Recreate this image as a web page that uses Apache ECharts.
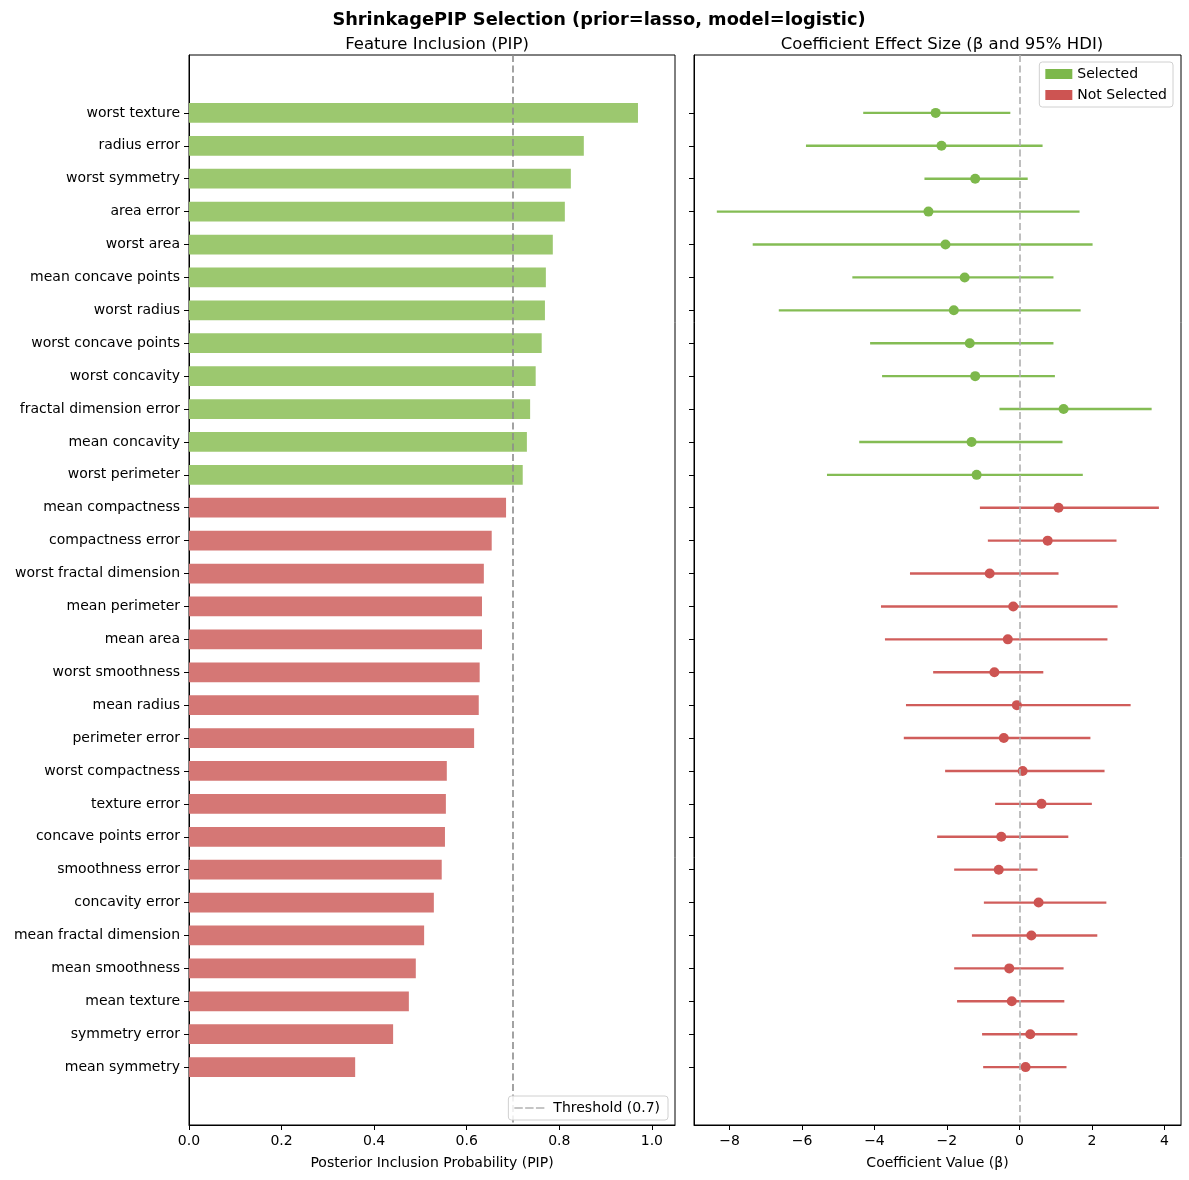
<!DOCTYPE html>
<html>
<head>
<meta charset="utf-8">
<script src="https://cdn.jsdelivr.net/npm/echarts@6/dist/echarts.min.js"></script>
<style>
  html, body { margin: 0; padding: 0; background: #fff; }
  #chart { width: 1189px; height: 1180px; }
</style>
</head>
<body>
<div id="chart"></div>
<script>
// features, top to bottom
const features = [
  "worst texture", "radius error", "worst symmetry", "area error", "worst area",
  "mean concave points", "worst radius", "worst concave points", "worst concavity",
  "fractal dimension error", "mean concavity", "worst perimeter", "mean compactness",
  "compactness error", "worst fractal dimension", "mean perimeter", "mean area",
  "worst smoothness", "mean radius", "perimeter error", "worst compactness",
  "texture error", "concave points error", "smoothness error", "concavity error",
  "mean fractal dimension", "mean smoothness", "mean texture", "symmetry error",
  "mean symmetry"
];
const pip = [
  0.970, 0.853, 0.825, 0.812, 0.786, 0.771, 0.769, 0.762, 0.749, 0.737,
  0.730, 0.721, 0.685, 0.654, 0.637, 0.633, 0.633, 0.628, 0.626, 0.616,
  0.557, 0.555, 0.553, 0.546, 0.529, 0.508, 0.490, 0.475, 0.441, 0.359
];
const betaMean = [
  -2.31, -2.15, -1.22, -2.51, -2.04, -1.51, -1.81, -1.37, -1.22, 1.22,
  -1.32, -1.18, 1.08, 0.78, -0.82, -0.17, -0.32, -0.69, -0.07, -0.43,
  0.09, 0.61, -0.50, -0.57, 0.53, 0.33, -0.28, -0.21, 0.30, 0.17
];
const hdiLow = [
  -4.31, -5.89, -2.62, -8.35, -7.36, -4.61, -6.64, -4.12, -3.79, -0.55,
  -4.42, -5.31, -1.09, -0.87, -3.02, -3.82, -3.71, -2.38, -3.13, -3.19,
  -2.05, -0.67, -2.27, -1.80, -0.98, -1.31, -1.80, -1.72, -1.03, -1.00
];
const hdiHigh = [
  -0.25, 0.64, 0.23, 1.66, 2.02, 0.94, 1.69, 0.94, 0.98, 3.65,
  1.19, 1.75, 3.85, 2.68, 1.08, 2.71, 2.43, 0.66, 3.07, 1.96,
  2.35, 2.00, 1.35, 0.50, 2.40, 2.15, 1.22, 1.24, 1.60, 1.30
];
const threshold = 0.7;
const pipTicks = [0, 0.2, 0.4, 0.6, 0.8, 1.0];
const betaTicks = [-8, -6, -4, -2, 0, 2, 4];

const GREEN_BAR = "#9cc86f", RED_BAR = "#d57775";
const GREEN = "#7db84b", RED = "#cd5452";
const FONT = "DejaVu Sans";
const DASH = [7, 3.5];

const idx = features.map((_, i) => i);
const barData = idx.map(i => [pip[i], i, pip[i] >= threshold ? 1 : 0]);
const selIdx = idx.filter(i => pip[i] >= threshold);
const notIdx = idx.filter(i => pip[i] < threshold);

const chart = echarts.init(document.getElementById("chart"));

function barItem(params, api) {
  const y = api.value(1);
  const a = api.coord([0, y]);
  const b = api.coord([api.value(0), y]);
  const h = api.size([0, 0.6])[1];
  return {
    type: "rect",
    shape: { x: a[0], y: a[1] - h / 2, width: b[0] - a[0], height: h },
    style: { fill: api.value(2) ? GREEN_BAR : RED_BAR }
  };
}
function errItem(color) {
  return function (params, api) {
    const y = api.value(2);
    const a = api.coord([api.value(0), y]);
    const b = api.coord([api.value(1), y]);
    return {
      type: "line",
      shape: { x1: a[0], y1: a[1], x2: b[0], y2: b[1] },
      style: { stroke: color, lineWidth: 2.4, opacity: 0.95 }
    };
  };
}

const yCommon = {
  type: "value", inverse: true, min: -1.76, max: 30.76,
  splitLine: { show: false },
  axisLine: { show: true, onZero: false, lineStyle: { color: "#000", width: 1 } },
  axisTick: { show: true, length: 5, customValues: idx, lineStyle: { color: "#000" } }
};
const minus = v => (v < 0 ? "\u2212" + Math.abs(v) : String(v));

chart.setOption({
  animation: false,
  textStyle: { fontFamily: FONT },
  title: [
    { text: "ShrinkagePIP Selection (prior=lasso, model=logistic)", left: 594, top: 6, textAlign: "center",
      textStyle: { fontFamily: FONT, fontSize: 17.8, fontWeight: "bold", color: "#000" } },
    { text: "Feature Inclusion (PIP)", left: 432, top: 31, textAlign: "center",
      textStyle: { fontFamily: FONT, fontSize: 16.5, fontWeight: "normal", color: "#000" } },
    { text: "Coefficient Effect Size (\u03b2 and 95% HDI)", left: 937, top: 31, textAlign: "center",
      textStyle: { fontFamily: FONT, fontSize: 16.5, fontWeight: "normal", color: "#000" } }
  ],
  legend: [
    {
      data: [{ name: "Threshold (0.7)", icon: "path://M0,0h9v1h-9z M11.5,0h9v1h-9z M23,0h9v1h-9z" }],
      orient: "vertical", right: 521, bottom: 60, z: 20,
      itemWidth: 30, itemHeight: 1.6, itemGap: 6,
      backgroundColor: "rgba(255,255,255,0.85)", borderColor: "#d0d0d0", borderWidth: 1, borderRadius: 3,
      padding: [5, 8, 5, 6],
      textStyle: { fontFamily: FONT, fontSize: 14, color: "#000", padding: [0, 0, 0, 4] }
    },
    {
      data: [{ name: "Selected", icon: "rect" }, { name: "Not Selected", icon: "rect" }],
      orient: "vertical", right: 16, top: 62, z: 20,
      itemWidth: 27, itemHeight: 10, itemGap: 7,
      backgroundColor: "rgba(255,255,255,0.85)", borderColor: "#d0d0d0", borderWidth: 1, borderRadius: 3,
      padding: [5, 6, 5, 6],
      textStyle: { fontFamily: FONT, fontSize: 14, color: "#000" }
    }
  ],
  grid: [
    { left: 189, right: 514, top: 55, bottom: 55, show: true, borderColor: "#000", borderWidth: 1 },
    { left: 694, right: 8, top: 55, bottom: 55, show: true, borderColor: "#000", borderWidth: 1 }
  ],
  xAxis: [
    {
      gridIndex: 0, type: "value", min: 0, max: 1.05,
      name: "Posterior Inclusion Probability (PIP)", nameLocation: "middle", nameGap: 31,
      nameTextStyle: { fontFamily: FONT, fontSize: 14, color: "#000" },
      splitLine: { show: false },
      axisLine: { show: true, onZero: false, lineStyle: { color: "#000" } },
      axisTick: { show: true, length: 5, customValues: pipTicks, lineStyle: { color: "#000" } },
      axisLabel: { customValues: pipTicks, margin: 9, fontFamily: FONT, fontSize: 14, color: "#000",
        formatter: v => v.toFixed(1) }
    },
    {
      gridIndex: 1, type: "value", min: -8.98, max: 4.46,
      name: "Coefficient Value (\u03b2)", nameLocation: "middle", nameGap: 31,
      nameTextStyle: { fontFamily: FONT, fontSize: 14, color: "#000" },
      splitLine: { show: false },
      axisLine: { show: true, onZero: false, lineStyle: { color: "#000" } },
      axisTick: { show: true, length: 5, customValues: betaTicks, lineStyle: { color: "#000" } },
      axisLabel: { customValues: betaTicks, margin: 9, fontFamily: FONT, fontSize: 14, color: "#000",
        formatter: minus }
    }
  ],
  yAxis: [
    Object.assign({ gridIndex: 0 }, yCommon, {
      axisLabel: { customValues: idx, margin: 9, fontFamily: FONT, fontSize: 14, color: "#000",
        formatter: v => features[Math.round(v)] }
    }),
    Object.assign({ gridIndex: 1 }, yCommon, { axisLabel: { show: false } })
  ],
  series: [
    {
      name: "PIP", type: "custom", xAxisIndex: 0, yAxisIndex: 0,
      renderItem: barItem, encode: { x: 0, y: 1 }, data: barData, silent: true
    },
    {
      name: "Threshold (0.7)", type: "line", xAxisIndex: 0, yAxisIndex: 0, data: [],
      symbol: "none", color: "#8c8c8c", itemStyle: { color: "#8c8c8c" },
      lineStyle: { color: "#8c8c8c", type: DASH, width: 1.6 },
      markLine: {
        silent: true, symbol: "none", label: { show: false },
        lineStyle: { color: "#8c8c8c", type: DASH, width: 1.6 },
        data: [{ xAxis: threshold }]
      }
    },
    {
      name: "Selected", type: "custom", xAxisIndex: 1, yAxisIndex: 1,
      itemStyle: { color: GREEN }, renderItem: errItem(GREEN), encode: { x: [0, 1], y: 2 },
      data: selIdx.map(i => [hdiLow[i], hdiHigh[i], i]), silent: true
    },
    {
      name: "Not Selected", type: "custom", xAxisIndex: 1, yAxisIndex: 1,
      itemStyle: { color: RED }, renderItem: errItem(RED), encode: { x: [0, 1], y: 2 },
      data: notIdx.map(i => [hdiLow[i], hdiHigh[i], i]), silent: true
    },
    {
      name: "Selected", type: "scatter", xAxisIndex: 1, yAxisIndex: 1, symbolSize: 10,
      itemStyle: { color: GREEN, opacity: 1 }, data: selIdx.map(i => [betaMean[i], i]), silent: true,
      markLine: {
        silent: true, symbol: "none", label: { show: false },
        lineStyle: { color: "#b0b0b0", type: DASH, width: 1.6 },
        data: [{ xAxis: 0 }]
      }
    },
    {
      name: "Not Selected", type: "scatter", xAxisIndex: 1, yAxisIndex: 1, symbolSize: 10,
      itemStyle: { color: RED, opacity: 1 }, data: notIdx.map(i => [betaMean[i], i]), silent: true
    }
  ]
});
</script>
</body>
</html>
